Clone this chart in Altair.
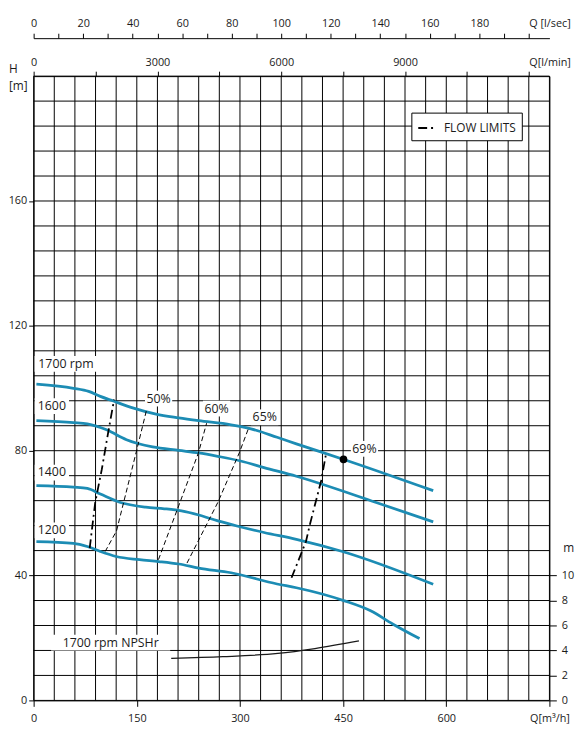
import altair as alt
import pandas as pd

# ---------------- data ----------------
# head curves, Q in m3/h, H in m
q_1700 = [4, 58, 80, 97, 116, 144, 178, 211, 240, 287, 316, 354, 382, 451, 581]
h_1700 = [101.3, 100.0, 99.0, 97.4, 95.9, 93.7, 91.7, 90.5, 89.6, 88.3, 87.0, 84.3, 82.2, 77.2, 67.2]
q_1600 = [4, 58, 78, 106, 135, 173, 211, 240, 268, 301, 335, 382, 497, 581]
h_1600 = [89.6, 89.0, 88.6, 86.7, 83.5, 81.2, 80.1, 79.3, 78.2, 76.7, 74.6, 71.8, 63.5, 57.2]
q_1400 = [4, 58, 78, 97, 125, 163, 190, 215, 240, 268, 297, 335, 382, 449, 581]
h_1400 = [68.8, 68.3, 67.9, 66.1, 63.5, 61.9, 61.4, 60.7, 59.4, 57.5, 55.8, 53.8, 51.6, 47.7, 37.2]
q_1200 = [4, 58, 78, 97, 120, 154, 182, 211, 240, 287, 354, 382, 452, 490, 522, 561]
h_1200 = [50.9, 50.3, 49.3, 47.7, 46.1, 45.1, 44.5, 43.7, 42.4, 40.9, 37.3, 36.1, 31.9, 28.7, 24.5, 19.8]

# NPSHr at 1700 rpm (m)
q_npsh = [200, 275, 355, 409, 473]
npsh = [3.37, 3.5, 3.76, 4.15, 4.76]

# iso-efficiency lines
q_e50 = [104, 120.5, 150, 164]
h_e50 = [47.7, 54.3, 80.3, 92.9]
q_e60 = [181.5, 211, 239.6, 251.5]
h_e60 = [45.1, 62.4, 79.3, 88.8]
q_e65 = [223, 268, 299, 312]
h_e65 = [44.0, 63.5, 79.3, 86.9]

# flow limits
q_fl_left = [81.5, 89.6, 99.1, 108.6, 117]
h_fl_left = [48.8, 63.5, 74.0, 86.1, 96.4]
q_fl_right = [375, 396, 401.4, 418, 425]
h_fl_right = [39.3, 50.9, 56.1, 70.3, 78.8]

# best efficiency point
q_bep = [450.6]
h_bep = [77.2]

# labels
rpm_text = ["1700 rpm", "1600", "1400", "1200"]
rpm_q = [47, 26.5, 26.5, 26.5]
rpm_h = [107.8, 94.3, 73.0, 54.5]
eff_text = ["50%", "60%", "65%", "69%"]
eff_q = [181.7, 266, 336, 481]
eff_h = [96.7, 93.5, 90.7, 80.6]
npsh_text = ["1700 rpm NPSHr"]
npsh_lq = [112]
npsh_lh = [18.5]

# grid and ticks
grid_q = list(range(0, 751, 30))
grid_h = list(range(0, 201, 8))
bottom_ticks = [0, 150, 300, 450, 600, 750]
left_ticks = [0, 40, 80, 120, 160]
npsh_ticks = [0, 2, 4, 6, 8, 10]
lsec_ticks = list(range(0, 201, 10))
lmin_ticks = list(range(0, 12001, 1500))

FONT = "Open Sans"
BLUE = "#1c8cb4"
INK = "#1a1a1a"

W, H = 523, 633
QMAX, HMAX = 750, 200


def xs():
    return alt.Scale(domain=[0, QMAX], nice=False, zero=False)


def ys():
    return alt.Scale(domain=[0, HMAX], nice=False, zero=False)


def X(f="q"):
    return alt.X(f"{f}:Q", scale=xs(), axis=None)


def Y(f="h"):
    return alt.Y(f"{f}:Q", scale=ys(), axis=None)


# ---------------- layers ----------------
vgrid = alt.Chart(pd.DataFrame({"q": grid_q})).mark_rule(color="black", strokeWidth=1).encode(
    x=alt.X("q:Q", scale=xs(), axis=alt.Axis(
        orient="bottom", values=bottom_ticks, title=None,
        labelExpr="datum.value == 750 ? 'Q[m³/h]' : datum.label",
        tickSize=6, labelPadding=6))
)
hgrid = alt.Chart(pd.DataFrame({"h": grid_h})).mark_rule(color="black", strokeWidth=1).encode(
    y=alt.Y("h:Q", scale=ys(), axis=alt.Axis(
        orient="left", values=left_ticks, title=["H", "[m]"], titleAngle=0,
        titleX=-25.5, titleY=-8, titleAlign="left", titleBaseline="middle",
        titleLineHeight=18, tickSize=5, labelPadding=2))
)

curves_df = pd.concat([
    pd.DataFrame({"rpm": "1700", "q": q_1700, "h": h_1700}),
    pd.DataFrame({"rpm": "1600", "q": q_1600, "h": h_1600}),
    pd.DataFrame({"rpm": "1400", "q": q_1400, "h": h_1400}),
    pd.DataFrame({"rpm": "1200", "q": q_1200, "h": h_1200}),
])
curves = alt.Chart(curves_df).mark_line(color=BLUE, strokeWidth=2.8, interpolate="monotone").encode(
    x=X(), y=Y(), detail="rpm:N")

eff_df = pd.concat([
    pd.DataFrame({"e": "50", "q": q_e50, "h": h_e50}),
    pd.DataFrame({"e": "60", "q": q_e60, "h": h_e60}),
    pd.DataFrame({"e": "65", "q": q_e65, "h": h_e65}),
])
eff = alt.Chart(eff_df).mark_line(color="black", strokeWidth=1, strokeDash=[5, 3]).encode(
    x=X(), y=Y(), detail="e:N", order="h:Q")

fl_df = pd.concat([
    pd.DataFrame({"side": "left", "q": q_fl_left, "h": h_fl_left}),
    pd.DataFrame({"side": "right", "q": q_fl_right, "h": h_fl_right}),
])
fl_df["kind"] = "FLOW LIMITS"
flow = alt.Chart(fl_df).mark_line(color="black", strokeWidth=1.8).encode(
    x=X(), y=Y(), detail="side:N", order="h:Q",
    strokeDash=alt.StrokeDash("kind:N", scale=alt.Scale(domain=["FLOW LIMITS"], range=[[9, 4, 2, 4]]),
                              legend=alt.Legend(orient="none", legendX=383, legendY=37, title=None,
                                                strokeColor="black", fillColor="white", padding=6,
                                                symbolType="stroke", symbolSize=289,
                                                symbolStrokeWidth=2, symbolStrokeColor="black",
                                                labelFont=FONT, labelFontSize=12, labelColor=INK,
                                                labelOffset=8, cornerRadius=0)))

bep = alt.Chart(pd.DataFrame({"q": q_bep, "h": h_bep})).mark_circle(size=60, color="black", opacity=1).encode(
    x=X(), y=Y())

px_q = W / QMAX
px_h = H / HMAX


def label_layers(df, pad):
    base = alt.Chart(df).transform_calculate(
        q1=f"datum.q - (length(datum.t) * 3.6 + {pad}) / {px_q}",
        q2=f"datum.q + (length(datum.t) * 3.6 + {pad}) / {px_q}",
        h1=f"datum.h - 8 / {px_h}",
        h2=f"datum.h + 8 / {px_h}",
    )
    box = base.mark_rect(color="white").encode(x=X("q1"), x2="q2:Q", y=Y("h1"), y2="h2:Q")
    txt = base.mark_text(font=FONT, fontSize=12.5, color=INK, align="center", baseline="middle").encode(
        x=X(), y=Y(), text="t:N")
    return box, txt


rpm_box, rpm_txt = label_layers(pd.DataFrame({"t": rpm_text, "q": rpm_q, "h": rpm_h}), 3)
eff_box, eff_txt = label_layers(pd.DataFrame({"t": eff_text, "q": eff_q, "h": eff_h}), 3)
np_box, np_txt = label_layers(pd.DataFrame({"t": npsh_text, "q": npsh_lq, "h": npsh_lh}), 10)

npsh_layer = alt.Chart(pd.DataFrame({"q": q_npsh, "n": npsh})).mark_line(
    color=INK, strokeWidth=1.3, interpolate="monotone").encode(
    x=X(),
    y=alt.Y("n:Q", scale=alt.Scale(domain=[0, HMAX / 4], nice=False, zero=False),
            axis=alt.Axis(orient="right", values=npsh_ticks, title="m", titleAngle=0,
                          titleX=19, titleY=478, titleAlign="center", titleBaseline="middle",
                          tickSize=7, labelPadding=5)))

lsec_layer = alt.Chart(pd.DataFrame({"v": [0]})).mark_point(opacity=0).encode(
    x=alt.X("v:Q", scale=alt.Scale(domain=[0, QMAX / 3.6], nice=False, zero=False),
            axis=alt.Axis(orient="top", offset=38.5, values=lsec_ticks, title=None,
                          labelExpr="datum.value == 200 ? 'Q [l/sec]' : (datum.value % 20 == 0 ? datum.label : '')",
                          labelAlign={"condition": {"test": "datum.value == 200", "value": "left"}, "value": "center"},
                          tickSize=5, labelPadding=5)))

lmin_layer = alt.Chart(pd.DataFrame({"v": [0]})).mark_point(opacity=0).encode(
    x=alt.X("v:Q", scale=alt.Scale(domain=[0, QMAX * 1000 / 60], nice=False, zero=False),
            axis=alt.Axis(orient="top", offset=0, values=lmin_ticks, title=None, format="d",
                          labelExpr="datum.value == 12000 ? 'Q[l/min]' : (datum.value % 3000 == 0 ? datum.label : '')",
                          labelAlign={"condition": {"test": "datum.value == 12000", "value": "left"}, "value": "center"},
                          tickSize=5, labelPadding=4)))

chart = alt.layer(
    vgrid, hgrid, rpm_box, eff_box, np_box, curves, eff, flow, bep,
    rpm_txt, eff_txt, np_txt, npsh_layer, lsec_layer, lmin_layer
).resolve_scale(
    x="independent", y="independent"
).properties(
    width=W, height=H,
    autosize=alt.AutoSizeParams(type="none"),
    padding={"left": 26, "top": 64, "right": 31, "bottom": 31},
).configure_view(strokeWidth=0).configure_axis(
    labelFont=FONT, titleFont=FONT, labelFontSize=11, titleFontSize=12,
    labelColor=INK, titleColor=INK, tickColor="black", domainColor="black",
    grid=False, titleFontWeight="normal", labelFlush=False, labelOverlap=False,
    domainWidth=1, tickWidth=1,
)

chart.save("out.html", embed_options={"renderer": "svg", "actions": False})
